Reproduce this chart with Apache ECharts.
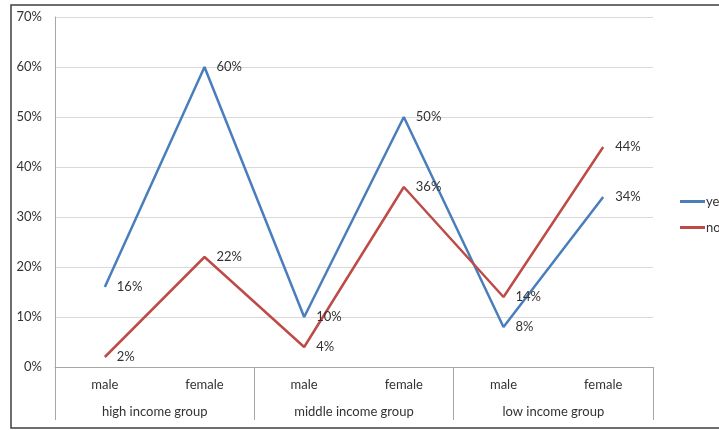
<!DOCTYPE html>
<html>
<head>
<meta charset="utf-8">
<script src="https://cdn.jsdelivr.net/npm/echarts@6/dist/echarts.min.js"></script>
<style>
  html, body { margin: 0; padding: 0; background: #fff; }
  #chart { width: 719px; height: 430px; }
</style>
</head>
<body>
<div id="chart"></div>
<script>
// categories
const genders = ['male', 'female', 'male', 'female', 'male', 'female']
const groups = ['high income group', 'middle income group', 'low income group']

// series values (%)
const yesValues = [16, 60, 10, 50, 8, 34]
const noValues = [2, 22, 4, 36, 14, 44]

const yTicks = [0, 10, 20, 30, 40, 50, 60, 70]

const chart = echarts.init(document.getElementById('chart'))

const font = 'Lato, "Open Sans", sans-serif'
const textColor = '#333333'

// 数据标签
const valueLabel = {
  show: true,
  position: 'right',
  distance: 12,
  fontSize: 13,
  color: textColor,
  fontFamily: font,
  formatter: (p) => p.value + '%',
}

const option = {
  backgroundColor: '#ffffff',
  animation: false,
  textStyle: { fontFamily: font },
  graphic: [
    {
      type: 'rect',
      shape: { x: 11, y: 5, width: 720, height: 423 },
      style: { fill: 'none', stroke: '#3f3f3f', lineWidth: 1.5 },
      z: -1,
    },
  ],
  legend: {
    orient: 'vertical',
    left: 675,
    top: 190,
    itemWidth: 25,
    itemHeight: 3,
    itemGap: 13,
    icon: 'rect',
    textStyle: { fontSize: 13, color: textColor, fontFamily: font, padding: [0, 0, 0, -4] },
    data: ['yes', 'no'],
  },
  grid: {
    left: 55,
    right: 66,
    top: 17,
    bottom: 63,
    containLabel: false,
  },
  xAxis: [
    {
      type: 'category',
      data: genders,
      position: 'bottom',
      axisLine: { show: true, lineStyle: { color: '#a6a6a6', width: 1 } },
      axisTick: { show: false },
      axisLabel: { margin: 11, fontSize: 13, color: textColor, fontFamily: font },
    },
    {
      type: 'category',
      data: groups,
      position: 'bottom',
      axisLine: { show: false },
      axisTick: { show: true, length: 53, lineStyle: { color: '#a6a6a6' } },
      axisLabel: { margin: 38, fontSize: 13, color: textColor, fontFamily: font },
    },
  ],
  yAxis: {
    type: 'value',
    min: yTicks[0],
    max: yTicks[yTicks.length - 1],
    interval: 10,
    axisLine: { show: true, lineStyle: { color: '#a6a6a6' } },
    axisTick: { show: false },
    axisLabel: {
      margin: 13,
      fontSize: 13,
      color: textColor,
      fontFamily: font,
      formatter: (v) => v + '%',
    },
    splitLine: { lineStyle: { color: '#d9d9d9', width: 1 } },
  },
  series: [
    {
      name: 'yes',
      type: 'line',
      xAxisIndex: 0,
      data: yesValues,
      symbol: 'circle',
      symbolSize: 0,
      showSymbol: true,
      color: '#4a7ebb',
      lineStyle: { width: 2.5, color: '#4a7ebb' },
      label: valueLabel,
    },
    {
      name: 'no',
      type: 'line',
      xAxisIndex: 0,
      data: noValues,
      symbol: 'circle',
      symbolSize: 0,
      showSymbol: true,
      color: '#be4b48',
      lineStyle: { width: 2.5, color: '#be4b48' },
      label: valueLabel,
    },
  ],
}

chart.setOption(option)
</script>
</body>
</html>
